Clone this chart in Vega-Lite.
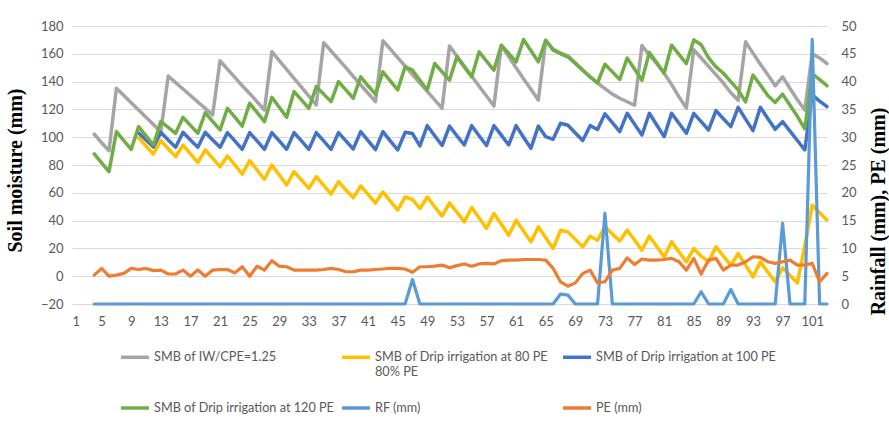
{
  "$schema": "https://vega.github.io/schema/vega-lite/v6.json",
  "width": 755,
  "height": 278,
  "autosize": {"type": "none"},
  "padding": {"left": 72, "top": 26, "right": 62, "bottom": 119},
  "background": "white",
  "config": {
    "view": {"stroke": null},
    "font": "Lato",
    "axis": {"labelFont": "Lato", "labelFontSize": 13, "labelColor": "#595959", "domain": false, "ticks": false, "tickSize": 0, "gridColor": "#D9D9D9", "gridWidth": 1}
  },
  "data": {"values": [
    {"d":4,"iw":102.3,"g120":88,"rf":0,"pe":5.2},
    {"d":5,"iw":96,"g120":81.6,"rf":0,"pe":6.4},
    {"d":6,"iw":90.3,"g120":75.2,"rf":0,"pe":5.0},
    {"d":7,"iw":135.2,"g120":104,"rf":0,"pe":5.2},
    {"d":8,"iw":130,"g120":97.6,"rf":0,"pe":5.5},
    {"d":9,"iw":124.8,"g120":91.3,"rf":0,"pe":6.4},
    {"d":10,"iw":119.6,"y80":99.5,"b100":103,"g120":107.6,"rf":0,"pe":6.2},
    {"d":11,"iw":114.4,"y80":93.7,"b100":98,"g120":101,"rf":0,"pe":6.4},
    {"d":12,"iw":109.2,"y80":87.9,"b100":93,"g120":94.4,"rf":0,"pe":6.0},
    {"d":13,"iw":104,"y80":97.5,"b100":103.5,"g120":111.2,"rf":0,"pe":6.1},
    {"d":14,"iw":144,"y80":91.7,"b100":98,"g120":107,"rf":0,"pe":5.4},
    {"d":15,"iw":139.3,"y80":86,"b100":92.7,"g120":102.8,"rf":0,"pe":5.4},
    {"d":16,"iw":134.7,"y80":94.4,"b100":103.5,"g120":114.3,"rf":0,"pe":6.1},
    {"d":17,"iw":130,"y80":88,"b100":98,"g120":108.5,"rf":0,"pe":5.0},
    {"d":18,"iw":125.3,"y80":81.7,"b100":92.7,"g120":102.8,"rf":0,"pe":6.1},
    {"d":19,"iw":120.7,"y80":90.8,"b100":103.5,"g120":117.6,"rf":0,"pe":5.0},
    {"d":20,"iw":116,"y80":84.8,"b100":98,"g120":111.4,"rf":0,"pe":6.1},
    {"d":21,"iw":155,"y80":78.8,"b100":92.7,"g120":105.2,"rf":0,"pe":6.2},
    {"d":22,"iw":149,"y80":86.5,"b100":103.3,"g120":120.8,"rf":0,"pe":6.2},
    {"d":23,"iw":143,"y80":80,"b100":97.3,"g120":114.4,"rf":0,"pe":5.6},
    {"d":24,"iw":137,"y80":73.5,"b100":91.3,"g120":108,"rf":0,"pe":6.7},
    {"d":25,"iw":131.5,"y80":83.1,"b100":103.3,"g120":124.4,"rf":0,"pe":5.0},
    {"d":26,"iw":125.5,"y80":76.4,"b100":97.3,"g120":117.8,"rf":0,"pe":6.8},
    {"d":27,"iw":119.6,"y80":69.7,"b100":91.3,"g120":111.2,"rf":0,"pe":6.1},
    {"d":28,"iw":161.5,"y80":80,"b100":103.3,"g120":128.7,"rf":0,"pe":7.8},
    {"d":29,"iw":155.1,"y80":72.8,"b100":97.3,"g120":121.5,"rf":0,"pe":6.8},
    {"d":30,"iw":148.8,"y80":65.6,"b100":91.3,"g120":114.3,"rf":0,"pe":6.7},
    {"d":31,"iw":142.4,"y80":75.2,"b100":103.3,"g120":132.8,"rf":0,"pe":6.1},
    {"d":32,"iw":136,"y80":69.2,"b100":97.3,"g120":126.8,"rf":0,"pe":6.1},
    {"d":33,"iw":129.6,"y80":63.2,"b100":91.3,"g120":120.8,"rf":0,"pe":6.1},
    {"d":34,"iw":123.2,"y80":71.6,"b100":103.3,"g120":136.4,"rf":0,"pe":6.1},
    {"d":35,"iw":168,"y80":65.3,"b100":97.3,"g120":131,"rf":0,"pe":6.2},
    {"d":36,"iw":162,"y80":59.1,"b100":91.3,"g120":125.6,"rf":0,"pe":6.4},
    {"d":37,"iw":156,"y80":68,"b100":103.3,"g120":140,"rf":0,"pe":6.2},
    {"d":38,"iw":150,"y80":62,"b100":97.3,"g120":134,"rf":0,"pe":5.8},
    {"d":39,"iw":143.7,"y80":56.5,"b100":91.5,"g120":128,"rf":0,"pe":5.8},
    {"d":40,"iw":137.6,"y80":64.9,"b100":104,"g120":143.5,"rf":0,"pe":6.1},
    {"d":41,"iw":131.6,"y80":58.9,"b100":97.5,"g120":137,"rf":0,"pe":6.1},
    {"d":42,"iw":125.6,"y80":52.6,"b100":91,"g120":131,"rf":0,"pe":6.2},
    {"d":43,"iw":169.4,"y80":60.6,"b100":104,"g120":147,"rf":0,"pe":6.3},
    {"d":44,"iw":163.3,"y80":54,"b100":97.4,"g120":140.5,"rf":0,"pe":6.4},
    {"d":45,"iw":157.2,"y80":47.5,"b100":90.8,"g120":134,"rf":0,"pe":6.4},
    {"d":46,"iw":151.2,"y80":57,"b100":103.5,"g120":150.6,"rf":0,"pe":6.3},
    {"d":47,"iw":145.1,"y80":55.2,"b100":102.6,"g120":148.2,"rf":4.4,"pe":5.7},
    {"d":48,"iw":139,"y80":48.7,"b100":93.7,"g120":141,"rf":0,"pe":6.7},
    {"d":49,"iw":132.9,"y80":57,"b100":108.3,"g120":134,"rf":0,"pe":6.7},
    {"d":50,"iw":126.9,"y80":50,"b100":101,"g120":153,"rf":0,"pe":6.8},
    {"d":51,"iw":120.8,"y80":43.2,"b100":94,"g120":147,"rf":0,"pe":7.0},
    {"d":52,"iw":165.6,"y80":52.7,"b100":108,"g120":141,"rf":0,"pe":6.5},
    {"d":53,"iw":158.4,"y80":46,"b100":101,"g120":157.8,"rf":0,"pe":6.9},
    {"d":54,"iw":151.1,"y80":39.1,"b100":94.4,"g120":150.6,"rf":0,"pe":7.2},
    {"d":55,"iw":143.9,"y80":49.4,"b100":108.3,"g120":143.4,"rf":0,"pe":6.8},
    {"d":56,"iw":136.7,"y80":41.8,"b100":101,"g120":161.4,"rf":0,"pe":7.2},
    {"d":57,"iw":129.6,"y80":34.3,"b100":94,"g120":154.8,"rf":0,"pe":7.3},
    {"d":58,"iw":122.4,"y80":45.1,"b100":108.3,"g120":148.2,"rf":0,"pe":7.2},
    {"d":59,"iw":166,"y80":37.3,"b100":101.5,"g120":166.2,"rf":0,"pe":7.8},
    {"d":60,"iw":158,"y80":29.5,"b100":94.5,"g120":160.2,"rf":0,"pe":7.9},
    {"d":61,"iw":150,"y80":40.3,"b100":108.3,"g120":154.2,"rf":0,"pe":7.9},
    {"d":62,"iw":142,"y80":32.5,"b100":100,"g120":170.3,"rf":0,"pe":8.0},
    {"d":63,"iw":134.5,"y80":24.7,"b100":92,"g120":162.2,"rf":0,"pe":8.0},
    {"d":64,"iw":126.8,"y80":35.5,"b100":108,"g120":154.2,"rf":0,"pe":8.0},
    {"d":65,"iw":169.4,"y80":27.7,"b100":100.4,"g120":169.8,"rf":0,"pe":7.9},
    {"d":66,"iw":163.5,"y80":20,"b100":98.5,"g120":162.6,"rf":0,"pe":6.4},
    {"d":67,"iw":160.5,"y80":33,"b100":110,"g120":160,"rf":1.8,"pe":4.0},
    {"d":68,"iw":158.5,"y80":31.9,"b100":108.6,"g120":157.8,"rf":1.6,"pe":3.2},
    {"d":69,"iw":153.5,"y80":26.5,"b100":103,"g120":153,"rf":0,"pe":3.8},
    {"d":70,"iw":148.5,"y80":21.1,"b100":97.6,"g120":148,"rf":0,"pe":5.5},
    {"d":71,"iw":143.5,"y80":28.8,"b100":108.3,"g120":143.4,"rf":0,"pe":6.1},
    {"d":72,"iw":139,"y80":25.9,"b100":105.5,"g120":139,"rf":0,"pe":3.8},
    {"d":73,"iw":135,"y80":35.5,"b100":116.8,"g120":152.5,"rf":16.3,"pe":4.0},
    {"d":74,"iw":131,"y80":30.4,"b100":110.4,"g120":147,"rf":0,"pe":6.1},
    {"d":75,"iw":128,"y80":25.4,"b100":104,"g120":141.5,"rf":0,"pe":6.4},
    {"d":76,"iw":125.5,"y80":33.1,"b100":117.2,"g120":157,"rf":0,"pe":8.3},
    {"d":77,"iw":123,"y80":26,"b100":109.4,"g120":149,"rf":0,"pe":7.1},
    {"d":78,"iw":166,"y80":18.7,"b100":101.6,"g120":141,"rf":0,"pe":8.1},
    {"d":79,"iw":159,"y80":28.8,"b100":117.2,"g120":161,"rf":0,"pe":7.9},
    {"d":80,"iw":153,"y80":21.3,"b100":108.8,"g120":153.5,"rf":0,"pe":7.9},
    {"d":81,"iw":146,"y80":13.9,"b100":100.4,"g120":146,"rf":0,"pe":8.0},
    {"d":82,"iw":138,"y80":24.7,"b100":117.2,"g120":166.2,"rf":0,"pe":8.2},
    {"d":83,"iw":129,"y80":17.5,"b100":110,"g120":159.6,"rf":0,"pe":7.6},
    {"d":84,"iw":121,"y80":10.3,"b100":102.8,"g120":153,"rf":0,"pe":6.1},
    {"d":85,"iw":163,"y80":19.9,"b100":117.2,"g120":170,"rf":0,"pe":8.2},
    {"d":86,"iw":157,"y80":14.4,"b100":111.2,"g120":166.5,"rf":2.2,"pe":5.4},
    {"d":87,"iw":151,"y80":10.5,"b100":105.2,"g120":157,"rf":0,"pe":7.9},
    {"d":88,"iw":145,"y80":21.1,"b100":119.1,"g120":150.6,"rf":0,"pe":8.2},
    {"d":89,"iw":139,"y80":14.5,"b100":113.3,"g120":146,"rf":0,"pe":6.1},
    {"d":90,"iw":132,"y80":7.9,"b100":107.6,"g120":140,"rf":2.6,"pe":7.0},
    {"d":91,"iw":126.6,"y80":16.3,"b100":121.5,"g120":134,"rf":0,"pe":7.0},
    {"d":92,"iw":168.6,"y80":8,"b100":113,"g120":125.4,"rf":0,"pe":7.6},
    {"d":93,"iw":160.5,"y80":-0.5,"b100":104.7,"g120":144.7,"rf":0,"pe":8.5},
    {"d":94,"iw":152.5,"y80":10.3,"b100":121.5,"g120":137.6,"rf":0,"pe":8.4},
    {"d":95,"iw":145,"y80":3,"b100":113.5,"g120":130,"rf":0,"pe":7.6},
    {"d":96,"iw":137,"y80":-4.1,"b100":105.7,"g120":125,"rf":0,"pe":7.3},
    {"d":97,"iw":143.5,"y80":6,"b100":111.2,"g120":131,"rf":14.5,"pe":7.6},
    {"d":98,"iw":135,"y80":0.5,"b100":104.4,"g120":123,"rf":0,"pe":7.9},
    {"d":99,"iw":127,"y80":-4.8,"b100":97.6,"g120":115,"rf":0,"pe":7.0},
    {"d":100,"iw":119.5,"y80":22,"b100":90.8,"g120":106,"rf":0,"pe":7.0},
    {"d":101,"iw":160,"y80":51,"b100":130.4,"g120":145.8,"rf":47.6,"pe":7.3},
    {"d":102,"iw":157,"y80":45.6,"b100":126,"g120":141.5,"rf":0,"pe":4.0},
    {"d":103,"iw":153,"y80":40.3,"b100":122,"g120":137,"rf":0,"pe":5.5}
  ]},
  "encoding": {
    "x": {"field": "d", "type": "quantitative",
      "scale": {"domain": [1, 103], "nice": false, "zero": false},
      "axis": {"values": [1,5,9,13,17,21,25,29,33,37,41,45,49,53,57,61,65,69,73,77,81,85,89,93,97,101], "title": null, "grid": false, "labelPadding": 11}}
  },
  "layer": [
    {
      "encoding": {
        "y": {"field": "v", "type": "quantitative",
          "scale": {"domain": [-20, 180], "nice": false, "zero": false},
          "axis": {"values": [-20,0,20,40,60,80,100,120,140,160,180], "grid": true, "labelPadding": 9,
            "title": "Soil moisture (mm)", "titleFont": "Liberation Serif", "titleFontWeight": "bold", "titleFontSize": 20, "titleColor": "#000000",
            "titleAngle": 270, "titleX": -57, "titleY": 144, "titleBaseline": "middle", "titleAlign": "center"}},
        "color": {"field": "s", "type": "nominal",
          "scale": {"domain": ["iw","y80","b100","g120","rf","pe"], "range": ["#A5A5A5","#FFC000","#4472C4","#70AD47","#5B9BD5","#ED7D31"]},
          "legend": {"title": null, "orient": "none", "legendX": 47, "legendY": 315, "columns": 3, "direction": "horizontal",
            "symbolType": "stroke", "symbolStrokeWidth": 3.5, "symbolSize": 784, "labelFont": "Lato", "labelFontSize": 12.7, "labelColor": "#595959",
            "labelOffset": 3, "columnPadding": 0, "rowPadding": 13, "gridAlign": "all", "labelLimit": 400, "padding": 0,
            "labelExpr": "datum.value == 'iw' ? ['SMB of IW/CPE=1.25', ''] : datum.value == 'y80' ? ['SMB of Drip irrigation at 80 PE', '80% PE'] : datum.value == 'b100' ? ['SMB of Drip irrigation at 100 PE', ''] : datum.value == 'g120' ? 'SMB of Drip irrigation at 120 PE' : datum.value == 'rf' ? 'RF (mm)' : 'PE (mm)'"}}
      },
      "layer": [
        {"transform": [{"fold": ["iw"], "as": ["s", "v"]}], "mark": {"type": "line", "strokeWidth": 3.5, "strokeJoin": "round", "strokeCap": "round"}},
        {"transform": [{"fold": ["y80"], "as": ["s", "v"]}], "mark": {"type": "line", "strokeWidth": 3.5, "strokeJoin": "round", "strokeCap": "round"}},
        {"transform": [{"fold": ["b100"], "as": ["s", "v"]}], "mark": {"type": "line", "strokeWidth": 3.5, "strokeJoin": "round", "strokeCap": "round"}},
        {"transform": [{"fold": ["g120"], "as": ["s", "v"]}], "mark": {"type": "line", "strokeWidth": 3.5, "strokeJoin": "round", "strokeCap": "round"}}
      ]
    },
    {
      "encoding": {
        "y": {"field": "v", "type": "quantitative",
          "scale": {"domain": [0, 50], "nice": false, "zero": false},
          "axis": {"orient": "right", "values": [0,5,10,15,20,25,30,35,40,45,50], "grid": false, "labelPadding": 14,
            "title": "Rainfall (mm), PE (mm)", "titleFont": "Liberation Serif", "titleFontWeight": "bold", "titleFontSize": 20, "titleColor": "#000000",
            "titleAngle": 270, "titleX": 51, "titleY": 185, "titleBaseline": "middle", "titleAlign": "center"}},
        "color": {"field": "s", "type": "nominal",
          "scale": {"domain": ["iw","y80","b100","g120","rf","pe"], "range": ["#A5A5A5","#FFC000","#4472C4","#70AD47","#5B9BD5","#ED7D31"]}}
      },
      "layer": [
        {"transform": [{"fold": ["rf"], "as": ["s", "v"]}], "mark": {"type": "line", "strokeWidth": 3.2, "strokeJoin": "round", "strokeCap": "round"}},
        {"transform": [{"fold": ["pe"], "as": ["s", "v"]}], "mark": {"type": "line", "strokeWidth": 3.2, "strokeJoin": "round", "strokeCap": "round"}}
      ]
    }
  ],
  "resolve": {"scale": {"y": "independent"}}
}
